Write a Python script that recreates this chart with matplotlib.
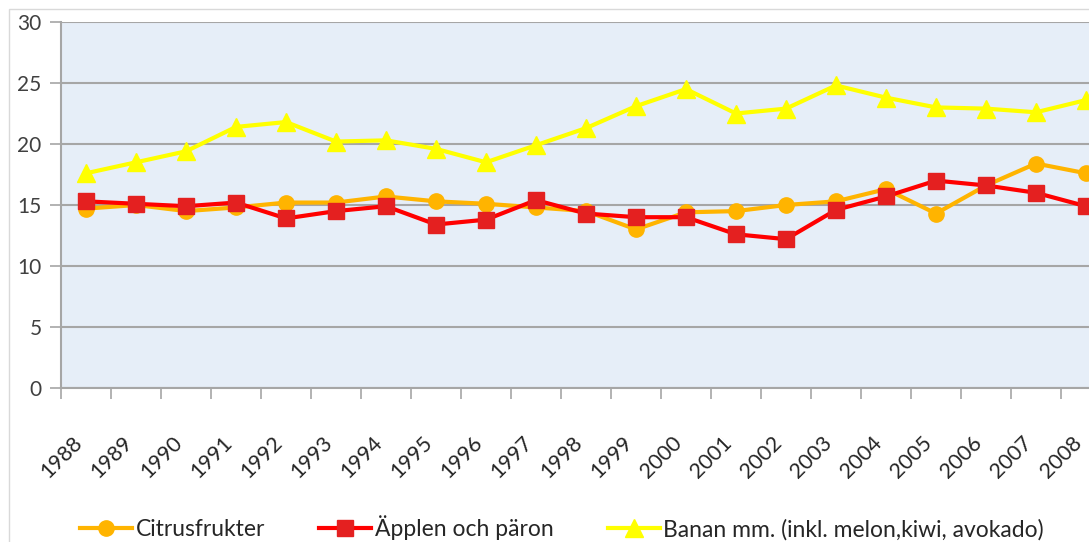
import matplotlib

matplotlib.use("Agg")
import matplotlib.pyplot as plt
from matplotlib.patches import Rectangle
from matplotlib.transforms import ScaledTranslation

plt.rcParams["font.family"] = ["Lato", "DejaVu Sans"]

years = [str(y) for y in range(1988, 2009)]
citrus = [14.7, 15.0, 14.5, 14.8, 15.2, 15.2, 15.7, 15.3, 15.1, 14.8, 14.5,
          13.0, 14.4, 14.5, 15.0, 15.3, 16.3, 14.3, 16.6, 18.4, 17.6]
apples = [15.3, 15.1, 14.9, 15.2, 13.9, 14.5, 14.9, 13.4, 13.8, 15.4, 14.3,
          14.0, 14.0, 12.6, 12.2, 14.6, 15.7, 17.0, 16.6, 16.0, 14.9]
banana = [17.6, 18.5, 19.4, 21.4, 21.8, 20.2, 20.3, 19.6, 18.5, 19.9, 21.3,
          23.1, 24.5, 22.5, 22.9, 24.8, 23.8, 23.0, 22.9, 22.6, 23.6]
labels = ["Citrusfrukter", "Äpplen och päron", "Banan mm. (inkl. melon,kiwi, avokado)"]

W, H = 1089, 542
fig = plt.figure(figsize=(W / 100, H / 100), dpi=100)

# outer chart border (cut off at right/bottom like the source)
fig.patches.append(Rectangle((9 / W, -0.1), 1.2, 1 - 9 / H + 0.1, transform=fig.transFigure,
                             facecolor="none", edgecolor="#D9D9D9", lw=1.0))

# plot area runs past the right edge of the image
ax = fig.add_axes([61 / W, 1 - 388 / H, 1050 / W, 366 / H])
ax.set_facecolor("#E6EEF8")

x = list(range(len(years)))
ax.plot(x, citrus, color="#FFB400", lw=3, marker="o", ms=11, label=labels[0], zorder=3)
ax.plot(x, apples, color="#FF0000", lw=3, marker="s", ms=11, mfc="#E42020", mec="#E42020",
        label=labels[1], zorder=4)
ax.plot(x, banana, color="#FFFF00", lw=3, marker="^", ms=13, label=labels[2], zorder=5)

ax.set_xlim(-0.5, len(years) - 0.5)
ax.set_ylim(0, 30)
ax.set_yticks(range(0, 31, 5))
ax.yaxis.grid(True, color="#A6A6A6", lw=1.5)
ax.set_axisbelow(True)

ax.set_xticks(x)
ax.set_xticklabels(years, rotation=45, ha="right", va="top")
shift = ScaledTranslation(6 / 100, 0, fig.dpi_scale_trans)
for lab in ax.get_xticklabels():
    lab.set_transform(lab.get_transform() + shift)
ax.set_xticks([i - 0.5 for i in range(len(years) + 1)], minor=True)
ax.tick_params(axis="x", which="major", length=0, pad=32, labelsize=15.5, labelcolor="#262626")
ax.tick_params(axis="x", which="minor", length=8, width=1.2, color="#A6A6A6")
ax.tick_params(axis="y", length=8, width=1.2, color="#A6A6A6", pad=6, labelsize=15,
               labelcolor="#404040")

for side in ["top", "right"]:
    ax.spines[side].set_visible(False)
for side in ["left", "bottom"]:
    ax.spines[side].set_color("#A6A6A6")
    ax.spines[side].set_linewidth(1.5)

fig.legend(loc="center", bbox_to_anchor=(562 / W, 1 - 528 / H), ncol=3, frameon=False,
           fontsize=16.5, handlelength=2.27, handletextpad=0.17, columnspacing=2.35,
           labelcolor="#262626")

fig.savefig("out.png", dpi=100)
